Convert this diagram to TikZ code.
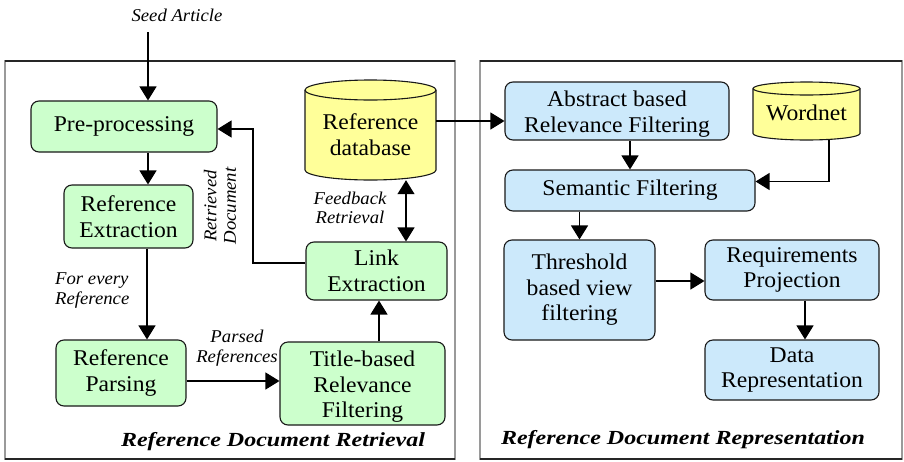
\documentclass[tikz,border=0pt]{standalone}
\usepackage{fontspec}
\usepackage{graphicx}
\setmainfont{Liberation Serif}
\newfontfamily\boxfont[FakeStretch=1.05]{Liberation Serif}
\newfontfamily\lblfont[FakeStretch=1.04]{Liberation Serif}
\newfontfamily\ttlfont[FakeStretch=1.2]{Liberation Serif}
\usetikzlibrary{arrows.meta}
\definecolor{boxgreen}{HTML}{CCFFCC}
\definecolor{boxblue}{HTML}{CCE9FB}
\definecolor{dbyellow}{HTML}{FFFF99}
\definecolor{framegray}{HTML}{9A9A9A}
\tikzset{
  procbox/.style={draw=black!90, line width=1.1pt, rounded corners=8pt, align=center,
    inner sep=0pt, font=\boxfont\fontsize{22.5}{25.5}\selectfont},
  gbox/.style={procbox, fill=boxgreen},
  bbox/.style={procbox, fill=boxblue},
  lbl/.style={font=\lblfont\itshape\fontsize{18}{19.5}\selectfont, inner sep=0pt},
  ttl/.style={font=\ttlfont\bfseries\itshape\fontsize{20}{22}\selectfont, inner sep=0pt},
  arr/.style={line width=1.2pt, -{Triangle[width=17pt,length=14pt]}},
  darr/.style={line width=1.2pt, {Triangle[width=17pt,length=14pt]}-{Triangle[width=17pt,length=14pt]}},
  dbtext/.style={align=center, inner sep=0pt, font=\boxfont\fontsize{22.5}{25.5}\selectfont}
}
\begin{document}
\begin{tikzpicture}[x=1pt,y=-1pt]
\useasboundingbox[fill=white] (0,0) rectangle (904,461);

% frames
\draw[framegray, line width=2pt] (5,61) rectangle (455,459);
\draw[black!85, line width=1.3pt] (5,61) -- (455,61) (5,459) -- (455,459);
\draw[framegray, line width=2pt] (480,61) rectangle (902,459);
\draw[black!85, line width=1.3pt] (480,61) -- (902,61) (480,459) -- (902,459);

% left boxes
\node[gbox, minimum width=186pt, minimum height=51pt] (pre) at (124,126.5) {Pre-processing};
\node[gbox, minimum width=129pt, minimum height=63pt] (rex) at (128.5,216.5) {Reference\\Extraction};
\node[gbox, minimum width=130pt, minimum height=66pt] (rpa) at (121,373) {Reference\\Parsing};
\node[gbox, minimum width=165pt, minimum height=83pt] (tit) at (362.5,383.5) {};
\node[dbtext] (tittext) at (362.5,387) {Title-based\\Relevance\\Filtering};
\node[gbox, minimum width=141pt, minimum height=58pt] (lnk) at (376.5,271) {Link\\Extraction};

% reference database cylinder
\node[minimum width=131pt, minimum height=100pt, inner sep=0pt] (db) at (370.5,130) {};
\draw[fill=dbyellow, draw=black!90, line width=1.1pt]
  (305,90) -- (305,170) arc[start angle=180, end angle=0, x radius=65.5, y radius=10]
  -- (436,90) arc[start angle=0, end angle=-180, x radius=65.5, y radius=10] -- cycle;
\draw[draw=black!90, line width=1.1pt] (305,90) arc[start angle=180, end angle=0, x radius=65.5, y radius=10];
\node[dbtext] (dbtext) at (370.5,134.5) {Reference\\database};

% right boxes
\node[bbox, minimum width=224pt, minimum height=58pt] (abs) at (617,111) {};
\node[dbtext] (abstext) at (617,114) {Abstract based\\Relevance Filtering};
\node[bbox, minimum width=250pt, minimum height=41pt] (sem) at (630,190.5) {Semantic Filtering};
\node[bbox, minimum width=151pt, minimum height=100pt] (thr) at (579.5,290) {Threshold\\based view\\filtering};
\node[bbox, minimum width=174pt, minimum height=60pt] (req) at (792,270) {Requirements\\Projection};
\node[bbox, minimum width=174pt, minimum height=60pt] (dat) at (792,370) {Data\\Representation};

% wordnet cylinder
\node[minimum width=107pt, minimum height=58pt, inner sep=0pt] (wn) at (806.5,111) {};
\draw[fill=dbyellow, draw=black!90, line width=1.1pt]
  (753,88.5) -- (753,133.5) arc[start angle=180, end angle=0, x radius=53.5, y radius=6.5]
  -- (860,88.5) arc[start angle=0, end angle=-180, x radius=53.5, y radius=6.5] -- cycle;
\draw[draw=black!90, line width=1.1pt] (753,88.5) arc[start angle=180, end angle=0, x radius=53.5, y radius=6.5];
\node[dbtext] (wntext) at (806.5,113) {Wordnet};

% labels
\node[lbl] (seed) at (177,15) {Seed Article};
\coordinate (seedend) at (148,32);
\node[lbl, anchor=west, align=left] (every) at (55,290.5) {For every\\Reference};
\node[lbl, align=center, rotate=90] (retr) at (220,206) {Retrieved\\Document};
\node[lbl, align=center] (fb) at (350,208) {Feedback\\Retrieval};
\node[lbl, align=center] (parsed) at (237,348) {Parsed\\References};
\node[ttl] (t1) at (273,442) {Reference Document Retrieval};
\node[ttl] (t2) at (683,440) {Reference Document Representation};

% connectors
\draw[arr] (seedend) -- (seedend |- pre.north);
\draw[arr] (pre.south -| seedend) -- (rex.north -| seedend);
\draw[arr] (rex.south -| 147,0) -- (rpa.north -| 147,0);
\draw[arr] ([yshift=-8pt]rpa.east) -- ([yshift=-8pt]rpa.east -| tit.west);
\draw[arr] (tit.north -| 379,0) -- (lnk.south -| 379,0);
\coordinate (rd) at (253,129);
\draw[arr] ([yshift=8pt]lnk.west) -| (rd) -- (rd -| pre.east);
\draw[darr] (db.south -| 406,0) -- (lnk.north -| 406,0);
\draw[arr] ([yshift=9pt]db.east) -- ([yshift=9pt]db.east -| abs.west);
\draw[arr] (abs.south -| 630,0) -- (sem.north -| 630,0);
\draw[arr] ([xshift=22.5pt]wn.south) |- ([yshift=9pt]sem.east);
\draw[arr] (sem.south -| thr.north) -- (thr.north);
\draw[arr] ([yshift=9pt]thr.east) -- ([yshift=9pt]thr.east -| req.west);
\draw[arr] (req.south -| 805,0) -- (dat.north -| 805,0);
\end{tikzpicture}
\end{document}
